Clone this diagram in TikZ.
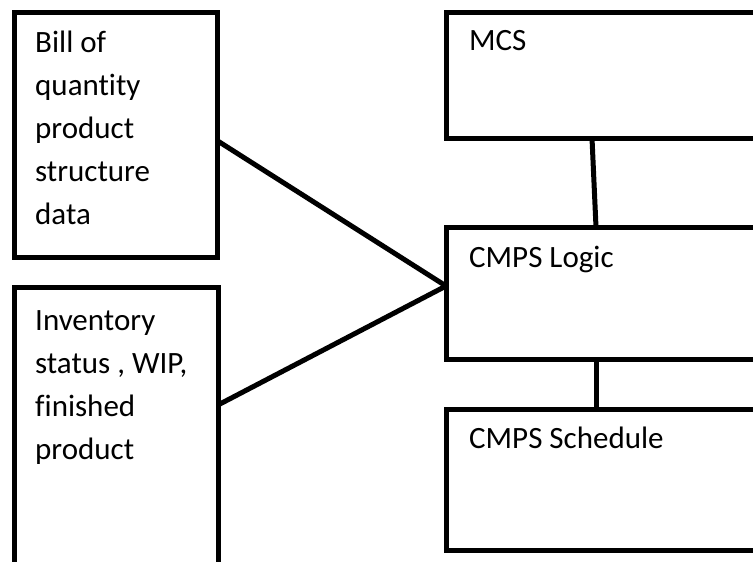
\documentclass[tikz,border=0pt]{standalone}
\usepackage{fontspec}
\setmainfont{Carlito}[Ligatures=NoCommon]
\usetikzlibrary{positioning}

\begin{document}
\begin{tikzpicture}[
  x=1pt, y=-1pt,
  box/.style={draw, line width=5pt, outer sep=0pt, inner sep=0pt,
    anchor=north west},
  txt/.style={font=\fontsize{31}{43}\selectfont, align=left,
    inner sep=0pt, anchor=base west},
  link/.style={line width=5pt}
]
\useasboundingbox[fill=white] (0,0) rectangle (753,562);
\clip (0,0) rectangle (753,562);

% input boxes on the left (base anchor = last text line)
\node[box, minimum width=203pt, minimum height=245pt] (bom) at (14,12) {};
\node[txt] at ([shift={(21,212)}]bom.north west)
  {Bill of\\quantity\\product\\structure\\data};

\node[box, minimum width=204pt, minimum height=295pt] (stock) at (14,287) {};
\node[txt] at ([shift={(21,172)}]stock.north west)
  {Inventory\\status , WIP,\\finished\\product};

% blocks on the right
\node[box, minimum width=320pt, minimum height=126pt] (mcs) at (446,12) {};
\node[txt] at ([shift={(23,38)}]mcs.north west) {MCS};

\node[box, minimum width=320pt, minimum height=132pt] (logic) at (446,227) {};
\node[txt] at ([shift={(23,40)}]logic.north west) {CMPS Logic};

\node[box, minimum width=320pt, minimum height=141pt] (sched) at (446,409) {};
\node[txt] at ([shift={(23,39)}]sched.north west) {CMPS Schedule};

% connections
\coordinate (in) at ([yshift=7pt]logic.west);
\draw[link] ([yshift=-6pt]bom.east) -- (in);
\draw[link] ([yshift=-118pt]stock.north east) -- (in);
\draw[link] ([xshift=-14pt]mcs.south) -- ([xshift=-10pt]logic.north);
\draw[link] ([xshift=-10pt]logic.south) -- ([xshift=-10pt]sched.north);
\end{tikzpicture}
\end{document}
